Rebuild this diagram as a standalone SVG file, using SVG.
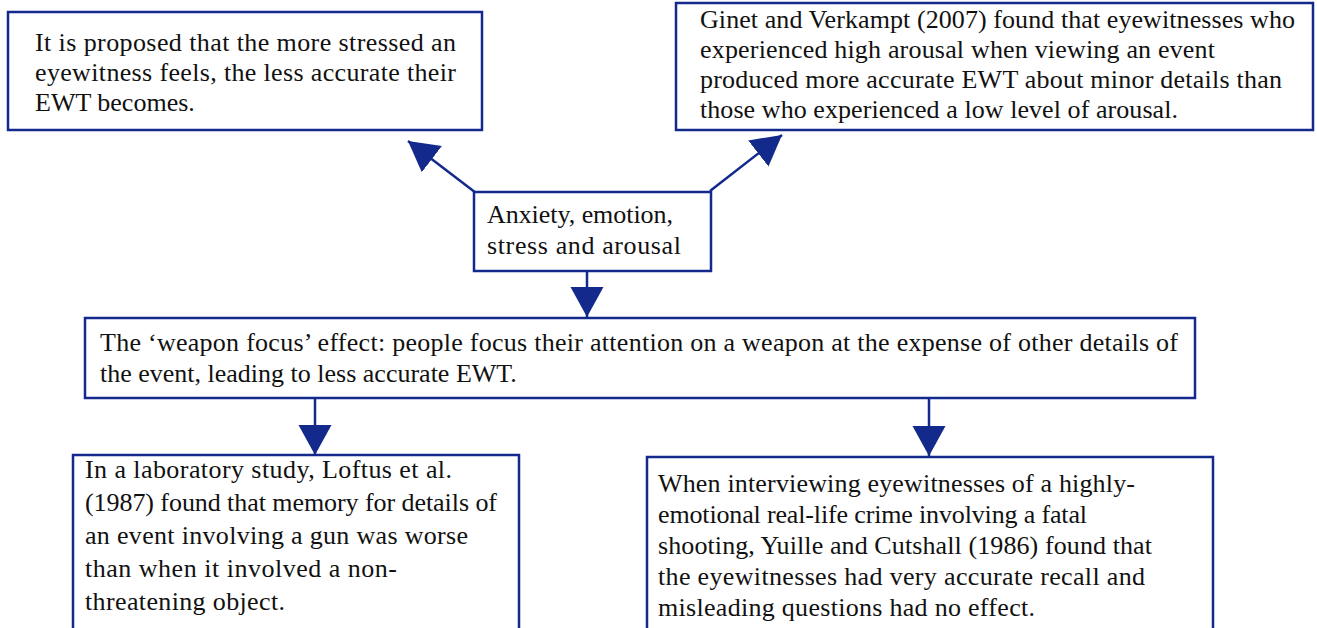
<svg xmlns="http://www.w3.org/2000/svg" width="1317" height="628" viewBox="0 0 1317 628">
<style>
.box{fill:#fff;stroke:#13298c;stroke-width:2.5}
.t{font-family:"Liberation Serif","Times New Roman",serif;font-size:26px;fill:#111}
.c{stroke:#13298c;stroke-width:2.5;fill:none}
</style>
<defs>
<marker id="ah" markerUnits="userSpaceOnUse" markerWidth="31" markerHeight="34" refX="30" refY="16.5" orient="auto" viewBox="0 0 31 34">
<path d="M0,0 L30,16.5 L0,33 z" fill="#13298c"/>
</marker>
</defs>
<rect width="1317" height="628" fill="#fff"/>
<g id="connectors">
<line class="c" x1="480" y1="196" x2="408" y2="141" marker-end="url(#ah)"/>
<line class="c" x1="710" y1="191" x2="782" y2="135" marker-end="url(#ah)"/>
<line class="c" x1="587" y1="271" x2="587" y2="317" marker-end="url(#ah)"/>
<line class="c" x1="315" y1="398" x2="315" y2="455" marker-end="url(#ah)"/>
<line class="c" x1="929" y1="398" x2="929" y2="456" marker-end="url(#ah)"/>
</g>
<g id="n1">
<rect class="box" x="8" y="12" width="474" height="118"/>
<text class="t" x="35" y="51" textLength="421" lengthAdjust="spacing">It is proposed that the more stressed an</text>
<text class="t" x="35" y="81" textLength="421" lengthAdjust="spacing">eyewitness feels, the less accurate their</text>
<text class="t" x="35" y="111">EWT becomes.</text>
</g>
<g id="n2">
<rect class="box" x="676" y="3" width="637" height="127"/>
<text class="t" x="700" y="28" textLength="595" lengthAdjust="spacing">Ginet and Verkampt (2007) found that eyewitnesses who</text>
<text class="t" x="700" y="58" textLength="515" lengthAdjust="spacing">experienced high arousal when viewing an event</text>
<text class="t" x="700" y="88" textLength="582" lengthAdjust="spacing">produced more accurate EWT about minor details than</text>
<text class="t" x="700" y="118" textLength="478" lengthAdjust="spacing">those who experienced a low level of arousal.</text>
</g>
<g id="n3">
<rect class="box" x="474" y="192" width="237" height="79"/>
<text class="t" x="487" y="223" textLength="186" lengthAdjust="spacing">Anxiety, emotion,</text>
<text class="t" x="487" y="254" textLength="194" lengthAdjust="spacing">stress and arousal</text>
</g>
<g id="n4">
<rect class="box" x="85" y="318" width="1110" height="80"/>
<text class="t" x="100" y="351" textLength="1078" lengthAdjust="spacing">The ‘weapon focus’ effect: people focus their attention on a weapon at the expense of other details of</text>
<text class="t" x="100" y="382">the event, leading to less accurate EWT.</text>
</g>
<g id="n5">
<rect class="box" x="73" y="455" width="446" height="190"/>
<text class="t" x="85" y="478" textLength="367" lengthAdjust="spacing">In a laboratory study, Loftus et al.</text>
<text class="t" x="85" y="511" textLength="412" lengthAdjust="spacing">(1987) found that memory for details of</text>
<text class="t" x="85" y="544" textLength="383" lengthAdjust="spacing">an event involving a gun was worse</text>
<text class="t" x="85" y="577" textLength="312" lengthAdjust="spacing">than when it involved a non-</text>
<text class="t" x="85" y="610" textLength="200" lengthAdjust="spacing">threatening object.</text>
</g>
<g id="n6">
<rect class="box" x="647" y="457" width="566" height="190"/>
<text class="t" x="658" y="492" textLength="477" lengthAdjust="spacing">When interviewing eyewitnesses of a highly-</text>
<text class="t" x="658" y="523" textLength="429" lengthAdjust="spacing">emotional real-life crime involving a fatal</text>
<text class="t" x="658" y="554" textLength="494" lengthAdjust="spacing">shooting, Yuille and Cutshall (1986) found that</text>
<text class="t" x="658" y="585" textLength="487" lengthAdjust="spacing">the eyewitnesses had very accurate recall and</text>
<text class="t" x="658" y="616" textLength="377" lengthAdjust="spacing">misleading questions had no effect.</text>
</g>
</svg>
